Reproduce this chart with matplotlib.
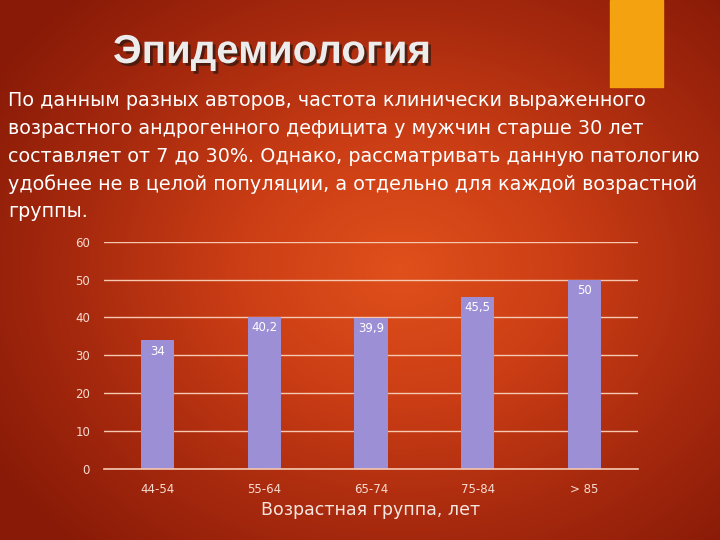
import numpy as np
import matplotlib.pyplot as plt
import matplotlib.patheffects as pe
from matplotlib.colors import LinearSegmentedColormap

# data
groups = ["44-54", "55-64", "65-74", "75-84", "> 85"]
values = [34, 40.2, 39.9, 45.5, 50]
value_labels = ["34", "40,2", "39,9", "45,5", "50"]
yticks = [0, 10, 20, 30, 40, 50, 60]

title = "Эпидемиология"
body = ["По данным разных авторов, частота клинически выраженного",
        "возрастного андрогенного дефицита у мужчин старше 30 лет",
        "составляет от 7 до 30%. Однако, рассматривать данную патологию",
        "удобнее не в целой популяции, а отдельно для каждой возрастной",
        "группы."]
xlabel = "Возрастная группа, лет"

W, H = 720, 540
fig = plt.figure(figsize=(7.2, 5.4), dpi=100)

# background radial gradient
bg = fig.add_axes([0, 0, 1, 1])
yy, xx = np.mgrid[0:H, 0:W]
r = np.sqrt(((xx - 400) / 480.0) ** 2 + ((yy - 270) / 380.0) ** 2)
r = np.clip(r, 0, 1)
cmap = LinearSegmentedColormap.from_list("bg", ["#e0501c", "#cc3e15", "#a82a0e", "#881a07"])
bg.imshow(r, cmap=cmap, extent=[0, W, H, 0], aspect="auto", vmin=0, vmax=1)
bg.add_patch(plt.Rectangle((610, 0), 53, 87, color="#f4a20f"))
bg.set_xlim(0, W)
bg.set_ylim(H, 0)
bg.axis("off")

# title
bg.text(113, 52, title, fontsize=29, fontweight="bold", family="Liberation Sans",
        color="#ececec", va="center", ha="left",
        path_effects=[pe.withSimplePatchShadow(offset=(2, -2), shadow_rgbFace="#3a1a10", alpha=0.8)])

# paragraph
for i, line in enumerate(body):
    bg.text(8, 101 + i * 27.6, line, fontsize=13.75, family="DejaVu Sans",
            color="white", va="center", ha="left")

# chart
ax = fig.add_axes([104 / W, (H - 469) / H, 534 / W, (469 - 241.7) / H])
ax.patch.set_alpha(0)
x = np.arange(len(groups))
ax.bar(x, values, width=0.31, color="#9d8fd6", zorder=3)
for xi, v, lab in zip(x, values, value_labels):
    ax.text(xi, v - 1.2, lab, ha="center", va="top", fontsize=8.5, color="white", zorder=4)
ax.set_ylim(0, 60)
ax.set_xlim(-0.5, len(groups) - 0.5)
ax.set_yticks(yticks)
ax.yaxis.grid(True, color="#f6c8b0", linewidth=1, zorder=0)
ax.axhline(0, color="#f6c8b0", linewidth=1.2, zorder=4, clip_on=False)
for s in ax.spines.values():
    s.set_visible(False)
ax.tick_params(axis="both", length=0, colors="#f6dcd0", labelsize=8.5)
ax.tick_params(axis="y", pad=10)
ax.tick_params(axis="x", pad=10)
ax.set_xticks(x)
ax.set_xticklabels(groups)
ax.set_xlabel(xlabel, fontsize=12.5, color="#f6e6e0", labelpad=4)

fig.savefig("out.png", dpi=100)
